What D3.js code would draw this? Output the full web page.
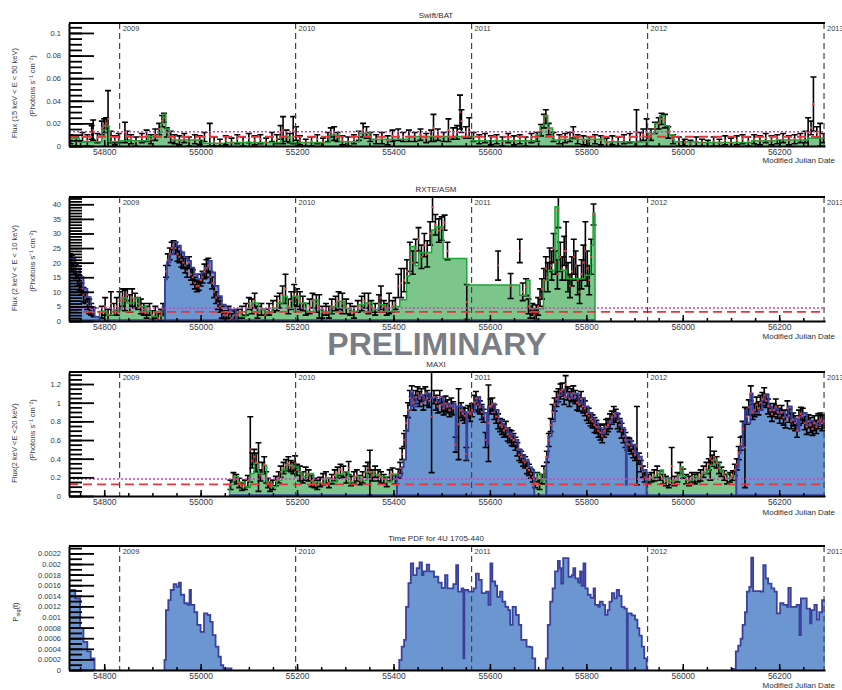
<!DOCTYPE html>
<html>
<head>
<meta charset="utf-8">
<title>4U 1705-440 light curves</title>
<script src="https://cdnjs.cloudflare.com/ajax/libs/d3/7.8.5/d3.min.js"></script>
<style>
  body { margin: 0; background: #fff; }
  svg { display: block; font-family: "Liberation Sans", Arial, sans-serif; }
  .xlab text { font-size: 8.5px; fill: #34374a; }
  .ylab text { font-family: "Liberation Sans Narrow", "Liberation Sans", sans-serif; font-size: 7.5px; fill: #34374a; }
  .title { font-size: 8px; fill: #2b2e40; }
  .ytitle { font-size: 7.5px; fill: #34374a; }
  .year { font-size: 7.5px; fill: #3a3a3a; }
</style>
</head>
<body>
<svg id="chart" width="842" height="690"></svg>
<script>
// ---- data (MJD, values) ----
const years = [[54832, "2009"], [55197, "2010"], [55562, "2011"], [55927, "2012"], [56293, "2013"]];
const xMajor = [54800, 55000, 55200, 55400, 55600, 55800, 56000, 56200];

const batYTicks = [0, 0.02, 0.04, 0.06, 0.08, 0.1];
const asmYTicks = [0, 5, 10, 15, 20, 25, 30, 35, 40];
const maxiYTicks = [0, 0.2, 0.4, 0.6, 0.8, 1, 1.2];
const pdfYTicks = [0, 0.0002, 0.0004, 0.0006, 0.0008, 0.001, 0.0012, 0.0014, 0.0016, 0.0018, 0.002, 0.0022];

// thresholds [dotted, dashed]
const batLevels = [0.0127, 0.0082];
const asmLevels = [4.47, 3.1];
const maxiLevels = [0.182, 0.125];

// block steps: [start, value]; a single [end] closes a segment
const batBlocks = [
  [54727,0.0068],[54749,0.0038],[54795,0.0142],[54803,0.018],[54810,0.0038],[54831,0.0047],[54892,0.0083],
  [54912,0.012],[54918,0.02],[54922,0.028],[54928,0.015],[54935,0.0083],[54940,0.0053],[55004,0.0024],
  [55054,0.003],[55166,0.0083],[55187,0.003],[55268,0.0097],[55288,0.0038],[55329,0.0112],[55354,0.0059],
  [55431,0.0083],[55563,0.0047],[55695,0.0097],[55704,0.018],[55712,0.027],[55720,0.016],[55730,0.0053],
  [55746,0.0059],[55838,0.0038],[55929,0.0112],[55942,0.02],[55952,0.027],[55962,0.018],[55972,0.01],
  [55982,0.0038],[56031,0.003],[56143,0.0047],[56194,0.0053],[56260,0.0068],[56297]
];

const asmHigh = [
  [54727,21.5],[54740,18],[54750,15],[54757,11],[54765,8.2],[54772,4.8],[54780,1.4],[54790],
  [54926,14.3],[54930,20.1],[54937,22.9],[54944,27],[54951,25.8],[54959,23.5],[54966,21.8],[54973,20.6],
  [54980,18.3],[54987,16],[54994,14.3],[55002,16.6],[55009,18.3],[55016,20.6],[55023,16.6],[55030,12],
  [55037,8.5],[55044,5.6],[55052,4.4],[55062,3.9],[55073]
];
const asmLow = [
  [54790,3.3],[54805,2.1],[54819,3.9],[54837,7.9],[54848,6.2],[54862,7.9],[54873,5.0],[54887,3.3],
  [54898,1.5],[54909,3.3],[54919,1.5],[54926],
  [55073,2.7],[55084,1.5],[55094,4.4],[55105,6.2],[55120,3.9],[55134,2.7],[55148,4.4],[55159,6.2],
  [55170,8.5],[55180,4.4],[55191,8.5],[55205,6.2],[55220,3.3],[55234,7.3],[55245,3.9],[55255,2.7],
  [55270,5.0],[55284,6.8],[55298,4.4],[55313,3.3],[55327,5.6],[55341,6.2],[55356,3.9],[55370,5.6],
  [55384,3.3],[55398,5.0],[55413,7.3],[55427,15.4],[55434,25.5],[55445,19],[55452,23.5],[55479,31.2],
  [55486,32.3],[55503,21.4],[55552,12.3],[55662,8.8],[55676,14],[55683,4.2],[55711,14],[55721,17.4],
  [55735,39.2],[55742,17.4],[55759,14.5],[55797,15.7],[55809,26],[55814,36.9],[55818]
];

const maxiLow = [
  [55060,0.12],[55068,0.21],[55078,0.15],[55092,0.10],[55103,0.24],[55111,0.35],[55120,0.24],[55130,0.33],
  [55137,0.15],[55147,0.10],[55158,0.17],[55168,0.28],[55179,0.33],[55192,0.31],[55203,0.26],[55210,0.21],
  [55220,0.24],[55234,0.15],[55248,0.14],[55258,0.19],[55268,0.15],[55282,0.23],[55296,0.26],[55307,0.15],
  [55317,0.21],[55331,0.17],[55345,0.26],[55358,0.23],[55372,0.21],[55386,0.15],[55396,0.23],[55407],
  [55692,0.17],[55697,0.24],[55706,0.16],[55712,0.28],[55717],
  [55925,0.17],[55929,0.19],[55939,0.21],[55946,0.24],[55953,0.28],[55960,0.19],[55970,0.16],[55981,0.17],
  [55989,0.22],[55996,0.31],[56001,0.21],[56008,0.17],[56019,0.21],[56029,0.19],[56039,0.24],[56050,0.28],
  [56057,0.33],[56064,0.39],[56071,0.35],[56077,0.28],[56084,0.24],[56093,0.19],[56102,0.22],[56111]
];
const maxiHigh = [
  [55407,0.21],[55417,0.31],[55421,0.39],[55426,0.71],[55431,0.92],[55436,1.12],[55441,0.96],[55447,1.06],
  [55455,1.08],[55462,1.03],[55469,1.10],[55476,1.05],[55483,1.06],[55490,1.01],[55497,1.06],[55504,0.96],
  [55511,0.99],[55517,0.96],[55524,0.99],[55529,0.49],[55531,0.96],[55542,0.90],[55551,0.39],[55553,0.89],
  [55562,0.90],[55569,1.01],[55574,1.06],[55580,0.96],[55587,0.89],[55594,0.56],[55596,0.96],[55604,0.99],
  [55611,0.92],[55618,0.81],[55625,0.76],[55632,0.73],[55638,0.67],[55645,0.65],[55652,0.60],[55659,0.49],
  [55666,0.42],[55673,0.39],[55680,0.31],[55687,0.28],[55692],
  [55717,0.42],[55721,0.64],[55728,0.80],[55735,0.99],[55742,1.08],[55749,1.14],[55756,1.06],[55763,1.10],
  [55770,1.05],[55777,1.10],[55784,0.99],[55791,1.05],[55797,0.96],[55804,0.89],[55811,0.83],[55818,0.78],
  [55825,0.73],[55832,0.67],[55839,0.74],[55846,0.78],[55853,0.85],[55860,0.89],[55867,0.81],[55874,0.73],
  [55880,0.64],[55882,0.12],[55884,0.60],[55894,0.55],[55901,0.46],[55908,0.42],[55915,0.28],[55925],
  [56111,0.31],[56116,0.46],[56120,0.53],[56125,0.78],[56129,0.92],[56134,0.78],[56140,1.10],[56145,0.89],
  [56157,0.92],[56164,1.03],[56171,1.08],[56178,0.96],[56185,0.92],[56192,0.94],[56198,0.89],[56205,0.90],
  [56212,0.85],[56219,0.96],[56226,0.81],[56233,0.83],[56238,0.70],[56242,0.85],[56250,0.89],[56257,0.76],
  [56264,0.81],[56271,0.78],[56278,0.76],[56285,0.81],[56292,0.80],[56297]
];

const pdfSteps = [
  [54727,0.00151],[54740,0.00135],[54750,0.00079],[54757,0.00053],[54765,0.00035],[54772,0.00022],[54780],
  [54925,0.00019],[54928,0.00113],[54933,0.00132],[54938,0.00151],[54944,0.00162],[54950,0.00157],[54955,0.00165],
  [54959,0.00142],[54966,0.00126],[54973,0.00123],[54977,0.00151],[54980,0.00123],[54987,0.00109],[54993,0.00085],
  [55000,0.00072],[55007,0.00107],[55014,0.00104],[55020,0.00091],[55025,0.00066],[55031,0.00044],[55037,0.00025],
  [55042,0.00009],[55047,0.00003],[55064],
  [55412,0.00019],[55417,0.00044],[55422,0.00057],[55426,0.00119],[55431,0.00164],[55436,0.00201],[55441,0.00179],
  [55448,0.00192],[55454,0.00203],[55459,0.00179],[55462,0.00186],[55469,0.00199],[55474,0.00186],[55484,0.00176],
  [55493,0.00165],[55500,0.00155],[55507,0.00179],[55512,0.00154],[55524,0.00162],[55530,0.00198],[55534,0.00148],
  [55541,0.00154],[55545,0.00022],[55547,0.00151],[55555,0.00148],[55566,0.00154],[55571,0.00182],[55577,0.0017],
  [55583,0.00145],[55592,0.00148],[55597,0.00123],[55601,0.00201],[55605,0.00167],[55611,0.00159],[55615,0.00138],
  [55621,0.00148],[55626,0.00129],[55632,0.00119],[55638,0.00113],[55642,0.00085],[55647,0.00119],[55654,0.00104],
  [55660,0.00085],[55665,0.00057],[55673,0.00057],[55676,0.00044],[55683,0.00043],[55688,0.00022],[55694],
  [55716,0.00022],[55720,0.00085],[55725,0.00129],[55730,0.00154],[55735,0.00186],[55741,0.00206],[55745,0.00192],
  [55748,0.00163],[55752,0.00211],[55759,0.00211],[55763,0.00176],[55770,0.00179],[55773,0.00192],[55777,0.00173],
  [55783,0.00165],[55787,0.00186],[55790,0.00159],[55794,0.00201],[55798,0.00154],[55803,0.00142],[55809,0.00136],
  [55815,0.00154],[55818,0.00123],[55825,0.00119],[55828,0.00129],[55834,0.00123],[55839,0.00104],[55844,0.00113],
  [55848,0.00129],[55853,0.00145],[55858,0.00135],[55863,0.00151],[55868,0.0014],[55873,0.00119],[55879,0.00116],
  [55884,0.00003],[55886,0.00107],[55894,0.00103],[55901,0.00095],[55906,0.00079],[55910,0.00065],[55915,0.00044],
  [55920,0.00022],[55925],
  [56104,0.00002],[56110,0.00035],[56115,0.00046],[56120,0.00059],[56124,0.00085],[56129,0.00109],[56133,0.00148],
  [56138,0.00157],[56142,0.00212],[56146,0.00149],[56162,0.00148],[56167,0.00198],[56172,0.00173],[56177,0.00163],
  [56184,0.00154],[56190,0.00148],[56195,0.00107],[56202,0.00126],[56209,0.00123],[56216,0.00119],[56219,0.00155],
  [56224,0.00119],[56236,0.00123],[56242,0.00066],[56245,0.00135],[56257,0.00116],[56264,0.00088],[56267,0.00113],
  [56273,0.00123],[56278,0.00095],[56283,0.00109],[56289,0.00132],[56297]
];

// measurements: [MJD, flux, error]
const batPoints = [
  [54730,.006,.004],[54742,.004,.004],[54755,.008,.004],[54765,.005,.005],[54774,.012,.006],[54777,.014,.009],
  [54786,.007,.004],[54795,.016,.006],[54800,.018,.006],[54804,.02,.005],[54808,.024,.025],[54814,.008,.005],
  [54822,.005,.004],[54830,.007,.004],[54843,.012,.009],[54848,.009,.004],[54856,.006,.004],[54866,.004,.004],
  [54878,.007,.004],[54888,.009,.005],[54897,.006,.004],[54906,.01,.005],[54914,.015,.005],[54920,.022,.005],
  [54924,.025,.004],[54930,.012,.004],[54938,.008,.005],[54946,.006,.004],[54956,.005,.004],[54966,.007,.004],
  [54976,.004,.004],[54988,.006,.004],[54998,.005,.004],[55008,.008,.004],[55019,.01,.01],[55028,.004,.004],
  [55040,.003,.003],[55052,.005,.004],[55064,.003,.004],[55076,.006,.004],[55088,.004,.004],[55100,.007,.004],
  [55112,.005,.004],[55124,.006,.004],[55136,.003,.004],[55148,.008,.004],[55158,.006,.004],[55166,.012,.006],
  [55171,.014,.012],[55178,.009,.005],[55185,.007,.004],[55192,.014,.012],[55198,.011,.006],[55206,.005,.004],
  [55218,.003,.003],[55230,.004,.004],[55242,.006,.004],[55254,.003,.004],[55264,.008,.004],[55270,.012,.004],
  [55277,.011,.006],[55284,.008,.004],[55294,.005,.004],[55306,.004,.004],[55318,.006,.004],[55328,.009,.004],
  [55337,.014,.006],[55344,.012,.005],[55352,.008,.004],[55364,.006,.004],[55376,.007,.005],[55388,.005,.004],
  [55398,.009,.005],[55410,.01,.005],[55420,.008,.004],[55432,.009,.005],[55444,.008,.004],[55456,.01,.005],
  [55468,.007,.004],[55478,.009,.005],[55483,.016,.012],[55492,.01,.005],[55504,.008,.004],[55514,.014,.01],
  [55524,.011,.005],[55532,.012,.006],[55538,.03,.015],[55541,.022,.01],[55550,.012,.005],[55557,.016,.009],
  [55566,.008,.004],[55578,.006,.004],[55590,.007,.004],[55602,.005,.004],[55614,.006,.004],[55626,.004,.004],
  [55638,.007,.004],[55650,.005,.004],[55662,.006,.004],[55674,.004,.004],[55686,.007,.004],[55698,.008,.004],
  [55706,.014,.005],[55712,.022,.006],[55716,.026,.006],[55722,.015,.005],[55732,.008,.004],[55744,.006,.004],
  [55756,.007,.004],[55766,.008,.004],[55773,.012,.005],[55782,.006,.004],[55794,.005,.004],[55806,.004,.004],
  [55818,.006,.004],[55830,.005,.004],[55842,.003,.004],[55854,.005,.004],[55866,.004,.004],[55878,.006,.004],
  [55890,.007,.004],[55904,.012,.02],[55912,.008,.004],[55918,.01,.005],[55925,.012,.012],[55934,.01,.005],
  [55942,.016,.005],[55950,.02,.005],[55956,.024,.005],[55963,.022,.006],[55970,.012,.005],[55980,.006,.004],
  [55992,.004,.004],[56004,.003,.003],[56016,.002,.003],[56028,.004,.004],[56040,.003,.003],[56052,.002,.003],
  [56064,.004,.004],[56076,.003,.003],[56088,.005,.004],[56100,.003,.004],[56112,.005,.004],[56124,.006,.004],
  [56136,.004,.004],[56148,.006,.004],[56160,.005,.004],[56172,.007,.004],[56184,.005,.004],[56196,.006,.004],
  [56208,.007,.004],[56220,.005,.004],[56232,.006,.004],[56244,.007,.004],[56254,.008,.005],[56260,.012,.013],
  [56266,.016,.006],[56271,.037,.024],[56278,.012,.005],[56285,.01,.01],[56292,.007,.004]
];

const asmPoints = [
  [54729,21,2],[54733,20,2.5],[54737,18,2],[54741,17,2.5],[54745,14,2],[54749,13,2.5],[54753,11,2],[54757,9,2.5],
  [54761,8,2],[54765,6,2],[54769,5,2.5],[54773,4,2],[54778,3,1.5],
  [54795,3,2],[54802,5,3],[54808,2,2],[54814,6,4],[54820,4,2],[54826,5,3],[54832,7,3],[54838,8,3],[54843,7,3.5],
  [54848,9,2],[54853,6,3],[54858,8,3],[54864,7,2.5],[54870,6,2],[54876,5,2.5],[54882,4,2],[54888,3,2],[54894,4,2],
  [54900,2,1.5],[54906,3,2],[54912,1,1.5],[54918,2,2],[54922,4,2],
  [54928,17,2],[54932,21,2],[54936,23,2],[54940,25,2],[54944,26,1.5],[54948,25,2],[54952,23,2.5],[54956,22,2],
  [54960,21,2.5],[54964,20,2],[54968,19,2.5],[54972,17,2],[54976,20,2],[54980,16,2],[54984,15,2.5],[54988,13,2],
  [54992,12,2],[54996,12,1.5],[55000,14,2],[55004,15,2],[55008,17,2.5],[55012,18,3],[55016,19,2.5],[55020,15,2],
  [55024,13,2],[55028,10,2],[55032,8,2],[55036,6,2],[55040,5,2],[55044,3,2],[55048,2,1.5],[55053,2,1.5],
  [55058,3,2],[55064,1,1.5],[55070,2,1.5],
  [55078,2,2],[55086,3,2],[55094,4,2],[55100,6,2],[55106,5,2.5],[55112,7,2.5],[55118,3,2],[55126,4,2],[55134,2,2],
  [55142,4,2],[55150,5,2],[55158,6,2.5],[55164,7,2.5],[55170,9,3],[55176,11,5],[55182,5,2.5],[55188,7,3],
  [55194,9,3.5],[55200,8,3],[55206,7,3],[55212,6,2.5],[55218,4,2],[55226,5,2.5],[55232,7,2.5],[55240,6,3],
  [55246,5,4],[55252,3,2],[55260,4,2],[55266,3,2],[55272,5,2.5],[55280,6,2.5],[55286,7,3],[55294,6,3.5],
  [55302,5,2.5],[55310,4,2],[55318,3,2],[55326,5,2],[55334,6,2.5],[55340,7,2.5],[55348,6,3.5],[55354,5,2],
  [55362,4,2],[55370,6,3],[55374,8,4],[55380,5,2],[55386,4,2],[55391,6,3.5],[55398,5,2],[55404,6,2],
  [55410,12,4],[55416,13,5],[55422,14,4],[55428,17,4],[55434,22,5],[55440,20,4],[55446,24,4],[55452,28,4],
  [55458,22,4],[55464,26,4],[55470,23,4.5],[55476,30,4],[55481,39,5],[55487,33,3.5],[55494,31,4],[55500,31.7,4],
  [55506,33.7,2.6],[55512,24,3],
  [55552,6.5,6],[55617,19,5],[55643,12,4.3],[55662,24,4],[55668,10,3],[55675,11.6,2.9],[55680,5,2.5],[55684,3,2],
  [55688,4,2],[55692,2,2],[55696,3,2.5],[55700,5,3],[55704,8,3],[55708,11,3.5],[55712,14,4],[55716,18,4],
  [55720,15,5],[55724,21,4],[55728,19,5],[55732,25,5],[55736,20,4],[55740,16,5],[55742,38,6],[55746,22,5],
  [55750,18,4],[55754,24,5],[55758,24,10],[55762,15,5],[55766,12,4],[55770,17,5],[55774,22,6],[55778,19,5],
  [55782,14,5],[55786,10,4],[55790,16,5],[55794,20,6],[55798,24,10],[55802,18,6],[55806,14,5],[55810,22,6],
  [55815,36.5,3.6]
];

const maxiPoints = [
  [55062,.12,.05],[55068,.2,.05],[55074,.18,.05],[55080,.14,.05],[55086,.1,.04],[55092,.12,.05],[55098,.16,.06],
  [55103,.5,.35],[55107,.38,.08],[55111,.42,.08],[55115,.36,.1],[55120,.31,.26],[55124,.22,.06],[55128,.3,.06],
  [55132,.34,.08],[55136,.2,.06],[55140,.14,.05],[55144,.1,.05],[55150,.12,.05],[55156,.16,.05],[55162,.2,.06],
  [55166,.26,.06],[55172,.3,.06],[55177,.33,.06],[55182,.35,.07],[55187,.32,.06],[55192,.3,.06],[55196,.35,.08],
  [55200,.28,.06],[55206,.24,.08],[55212,.2,.06],[55218,.24,.07],[55224,.22,.06],[55230,.16,.06],[55236,.14,.05],
  [55242,.12,.05],[55248,.15,.05],[55254,.18,.06],[55260,.2,.06],[55266,.14,.05],[55272,.18,.05],[55278,.22,.06],
  [55284,.25,.06],[55290,.28,.06],[55296,.26,.06],[55302,.2,.06],[55307,.3,.07],[55312,.16,.05],[55318,.2,.06],
  [55324,.22,.06],[55330,.17,.05],[55336,.2,.06],[55342,.26,.06],[55347,.3,.06],[55351,.25,.24],[55356,.22,.06],
  [55362,.26,.06],[55368,.22,.06],[55374,.2,.06],[55380,.18,.05],[55386,.15,.05],[55392,.22,.06],[55398,.24,.06],
  [55404,.18,.05],
  [55410,.24,.05],[55414,.3,.06],[55418,.45,.06],[55422,.6,.07],[55426,.78,.08],[55430,.92,.08],[55434,1.05,.08],
  [55438,1.12,.06],[55442,1.0,.08],[55446,1.06,.07],[55450,1.1,.07],[55454,1.04,.08],[55458,1.08,.07],[55462,1.0,.08],
  [55466,1.1,.07],[55470,1.05,.08],[55474,1.02,.07],[55479,.85,.6],[55484,1.06,.07],[55488,1.0,.08],[55492,.96,.07],
  [55496,1.06,.07],[55500,.98,.08],[55504,.94,.07],[55508,.99,.08],[55512,.96,.07],[55516,.92,.07],[55520,.97,.08],
  [55524,.94,.07],[55529,.55,.08],[55535,.77,.38],[55540,.92,.08],[55544,.88,.07],[55548,.86,.08],[55551,.45,.07],
  [55555,.9,.07],[55559,.88,.08],[55563,.92,.07],[55567,1.0,.08],[55571,1.05,.07],[55575,.98,.08],[55579,.95,.07],
  [55583,.9,.08],[55587,.86,.07],[55591,.6,.08],[55597,.78,.41],[55601,.96,.08],[55605,.98,.07],[55609,.9,.08],
  [55613,.85,.07],[55617,.8,.08],[55621,.76,.07],[55625,.74,.08],[55629,.7,.07],[55633,.72,.08],[55637,.66,.07],
  [55641,.64,.07],[55645,.62,.08],[55649,.6,.07],[55653,.56,.07],[55657,.5,.07],[55661,.44,.06],[55665,.42,.06],
  [55669,.38,.06],[55673,.36,.06],[55677,.3,.06],[55681,.28,.06],[55685,.24,.05],[55689,.2,.05],
  [55694,.14,.05],[55698,.2,.05],[55703,.12,.05],[55708,.18,.05],[55712,.26,.06],
  [55718,.42,.06],[55722,.6,.07],[55726,.76,.07],[55730,.9,.08],[55734,.98,.07],[55738,1.04,.08],[55742,1.08,.07],
  [55746,1.12,.08],[55750,1.14,.07],[55754,1.06,.08],[55757,1.2,.09],[55761,1.1,.07],[55765,1.04,.08],[55769,1.08,.07],
  [55773,1.1,.08],[55777,1.06,.07],[55781,1.0,.08],[55785,.98,.07],[55789,1.04,.08],[55793,.96,.07],[55797,.94,.08],
  [55801,.88,.07],[55805,.86,.08],[55809,.82,.07],[55813,.8,.07],[55817,.76,.08],[55821,.74,.07],[55825,.7,.07],
  [55829,.68,.08],[55833,.64,.07],[55837,.7,.07],[55841,.74,.08],[55845,.76,.07],[55849,.8,.08],[55853,.84,.07],
  [55857,.88,.08],[55861,.86,.07],[55865,.8,.08],[55869,.76,.07],[55873,.7,.08],[55877,.64,.07],[55881,.6,.08],
  [55885,.56,.07],[55889,.55,.07],[55893,.52,.07],[55897,.48,.07],[55901,.44,.06],[55905,.54,.42],[55909,.4,.06],
  [55913,.32,.06],[55917,.26,.06],[55921,.2,.05],
  [55929,.18,.05],[55935,.2,.05],[55941,.22,.06],[55947,.26,.06],[55953,.22,.05],[55959,.18,.05],[55965,.16,.05],
  [55971,.14,.05],[55977,.32,.2],[55983,.16,.05],[55989,.2,.05],[55995,.3,.06],[56001,.24,.05],[56007,.18,.05],
  [56013,.16,.05],[56019,.2,.05],[56025,.18,.05],[56031,.2,.05],[56037,.22,.06],[56043,.26,.06],[56049,.3,.06],
  [56054,.34,.06],[56057,.4,.23],[56061,.38,.06],[56065,.42,.06],[56070,.36,.06],[56075,.3,.06],[56080,.26,.05],
  [56086,.22,.05],[56092,.18,.05],[56098,.2,.05],[56104,.22,.05],[56108,.28,.06],
  [56112,.34,.06],[56116,.46,.07],[56120,.56,.07],[56124,.72,.08],[56129,.52,.43],[56133,.85,.08],[56137,.95,.08],
  [56141,1.1,.08],[56145,.9,.08],[56149,.92,.07],[56153,.98,.08],[56157,.94,.07],[56161,1.0,.08],[56165,1.04,.07],
  [56169,1.08,.08],[56173,1.02,.07],[56177,.96,.08],[56181,.92,.07],[56185,.88,.08],[56189,.92,.07],[56193,.96,.08],
  [56197,.9,.07],[56201,.86,.08],[56205,.9,.07],[56209,.84,.08],[56213,.8,.07],[56217,.94,.08],[56221,.86,.07],
  [56225,.8,.08],[56229,.82,.07],[56233,.78,.08],[56237,.7,.07],[56241,.84,.08],[56245,.88,.07],[56249,.86,.08],
  [56253,.78,.07],[56257,.74,.08],[56261,.8,.07],[56265,.76,.08],[56269,.72,.07],[56273,.78,.08],[56277,.74,.07],
  [56281,.8,.08],[56285,.82,.07],[56289,.78,.08],[56293,.8,.07]
];

// ---- layout ----
const GREEN_FILL = "#7cc68c", GREEN_LINE = "#1fa33a";
const BLUE_FILL = "#6b96cf", BLUE_LINE = "#3a409c";
const left = 69, right = 825;

const x = d3.scaleLinear().domain([54727, 56295]).range([left, right]);
const svg = d3.select("#chart");

const panels = [
  { title: "Swift/BAT", top: 23, bottom: 146, yMax: 0.1088, ticks: batYTicks, minor: 0.005,
    yt1: "Flux (15 keV < E < 50 keV)", yt2: "(Photons s\u207B\u00B9 cm\u207B\u00B2)", c1: 93, c2: 86,
    low: batBlocks, high: null, points: batPoints, levels: batLevels, xt: 163 },
  { title: "RXTE/ASM", top: 197, bottom: 321, yMax: 42.5, ticks: asmYTicks, minor: 1,
    yt1: "Flux (2 keV < E < 10 keV)", yt2: "(Photons s\u207B\u00B9 cm\u207B\u00B2)", c1: 268, c2: 261,
    low: asmLow, high: asmHigh, points: asmPoints, levels: asmLevels, xt: 339 },
  { title: "MAXI", top: 372, bottom: 496, yMax: 1.329, ticks: maxiYTicks, minor: 0.05,
    yt1: "Flux(2 keV <E <20 keV)", yt2: "(Photons s\u207B\u00B9 cm\u207B\u00B2)", c1: 443, c2: 430,
    low: maxiLow, high: maxiHigh, points: maxiPoints, levels: maxiLevels, xt: 515 },
  { title: "Time PDF for 4U 1705-440", top: 546, bottom: 670, yMax: 0.00234, ticks: pdfYTicks, minor: 0.0001,
    pdf: pdfSteps, xt: 688 }
];

// split [start,value] steps into contiguous segments
function segments(steps) {
  let segs = [], cur = [];
  steps.forEach(function(d) {
    if (cur.length) cur[cur.length - 1].x1 = d[0];
    if (d.length === 1) {
      if (cur.length) segs.push(cur);
      cur = [];
    } else {
      cur.push({ x0: d[0], v: d[1] });
    }
  });
  return segs;
}

function drawBlocks(g, steps, y, fill, stroke, width) {
  segments(steps).forEach(function(seg) {
    let pts = [];
    seg.forEach(function(b) { pts.push([x(b.x0), y(b.v)], [x(b.x1), y(b.v)]); });
    let outline = [[pts[0][0], y(0)]].concat(pts, [[pts[pts.length - 1][0], y(0)]]);
    g.append("path").attr("d", d3.line()(outline) + "Z").attr("fill", fill);
    g.append("path").attr("d", d3.line()(outline))
      .attr("fill", "none").attr("stroke", stroke).attr("stroke-width", width);
  });
}

function drawErrors(g, pts, y) {
  let d = "";
  pts.forEach(function(p) {
    let px = x(p[0]), y1 = y(p[1] - p[2]), y2 = y(p[1] + p[2]);
    d += "M" + px + "," + y1 + "V" + y2;
    d += "M" + (px - 3) + "," + y2 + "H" + (px + 3);
    d += "M" + (px - 3) + "," + y1 + "H" + (px + 3);
  });
  g.append("path").attr("d", d).attr("fill", "none").attr("stroke", "#000").attr("stroke-width", 1.6);
}

panels.forEach(function(p, i) {
  const y = d3.scaleLinear().domain([0, p.yMax]).range([p.bottom, p.top]);
  const g = svg.append("g");

  g.append("clipPath").attr("id", "clip" + i).append("rect")
    .attr("x", left).attr("y", p.top).attr("width", right - left).attr("height", p.bottom - p.top);
  const plot = g.append("g").attr("clip-path", "url(#clip" + i + ")");

  if (p.pdf) {
    drawBlocks(plot, p.pdf, y, BLUE_FILL, BLUE_LINE, 1.8);
  } else {
    drawBlocks(plot, p.low, y, GREEN_FILL, "none", 0);
    if (p.high) drawBlocks(plot, p.high, y, BLUE_FILL, "none", 0);
    drawErrors(plot, p.points, y);
    drawBlocks(plot, p.low, y, "none", GREEN_LINE, 1.5);
    if (p.high) {
      drawBlocks(plot, p.high, y, "none", BLUE_LINE, 1.9);
      let all = p.low.concat(p.high);
      let ext = d3.extent(all, function(d) { return d[0]; });
      plot.append("line").attr("x1", x(ext[0])).attr("x2", x(ext[1]))
        .attr("y1", y(0) - 1).attr("y2", y(0) - 1).attr("stroke", BLUE_LINE).attr("stroke-width", 1.5);
    }
    plot.selectAll("circle").data(p.points).enter().append("circle")
      .attr("cx", function(d) { return x(d[0]); })
      .attr("cy", function(d) { return y(d[1]); })
      .attr("r", 1.1).attr("fill", "#ee3b3b");
    plot.append("line").attr("x1", left).attr("x2", right)
      .attr("y1", y(p.levels[0])).attr("y2", y(p.levels[0]))
      .attr("stroke", "#d33fc2").attr("stroke-width", 1.5).attr("stroke-dasharray", "2,2");
    plot.append("line").attr("x1", left).attr("x2", right)
      .attr("y1", y(p.levels[1])).attr("y2", y(p.levels[1]))
      .attr("stroke", "#e8353b").attr("stroke-width", 1.8).attr("stroke-dasharray", "9,5");
  }

  // year markers
  years.forEach(function(yr) {
    g.append("line").attr("x1", x(yr[0])).attr("x2", x(yr[0]))
      .attr("y1", p.top).attr("y2", p.bottom)
      .attr("stroke", "#444").attr("stroke-width", 1.2).attr("stroke-dasharray", "6,4");
    g.append("text").attr("class", "year").attr("x", x(yr[0]) + 3).attr("y", p.top + 8).text(yr[1]);
  });

  // frame
  g.append("line").attr("x1", left).attr("x2", right).attr("y1", p.top).attr("y2", p.top)
    .attr("stroke", "#000").attr("stroke-width", 2);

  // y axis (ROOT style ticks inside)
  const yMinor = d3.range(0, p.yMax, p.minor);
  g.append("g").attr("transform", "translate(" + left + ",0)")
    .call(d3.axisLeft(y).tickValues(yMinor).tickSizeInner(-13).tickSizeOuter(0).tickFormat(""))
    .call(function(a) { a.select(".domain").remove(); a.selectAll("line").attr("stroke-width", 1.8); });
  g.append("g").attr("class", "ylab").attr("transform", "translate(" + left + ",0)")
    .call(d3.axisLeft(y).tickValues(p.ticks).tickSizeInner(-25).tickSizeOuter(0).tickPadding(8)
      .tickFormat(function(d) { return d === 0 ? "0" : d3.format("~g")(d); }))
    .call(function(a) {
      a.select(".domain").attr("stroke-width", 2);
      a.selectAll("line").attr("stroke-width", 1.8);
    });

  // x axis
  const xMinor = d3.range(54750, 56295, 50);
  g.append("g").attr("transform", "translate(0," + p.bottom + ")")
    .call(d3.axisBottom(x).tickValues(xMinor).tickSizeInner(-3).tickSizeOuter(0).tickFormat(""))
    .call(function(a) { a.select(".domain").remove(); a.selectAll("line").attr("stroke-width", 1.5); });
  g.append("g").attr("class", "xlab").attr("transform", "translate(0," + p.bottom + ")")
    .call(d3.axisBottom(x).tickValues(xMajor).tickSizeInner(-6).tickSizeOuter(0).tickPadding(3)
      .tickFormat(d3.format("d")))
    .call(function(a) {
      a.select(".domain").attr("stroke-width", 2);
      a.selectAll("line").attr("stroke-width", 1.5);
    });

  // titles
  g.append("text").attr("class", "title").attr("x", 436).attr("y", p.top - 5)
    .attr("text-anchor", "middle").text(p.title);
  g.append("text").attr("class", "title").attr("x", 835).attr("y", p.xt)
    .attr("text-anchor", "end").text("Modified Julian Date");

  if (p.pdf) {
    let t = g.append("text").attr("class", "ytitle").attr("text-anchor", "middle")
      .attr("transform", "translate(18," + 612 + ") rotate(-90)");
    t.append("tspan").text("P");
    t.append("tspan").attr("font-size", "5.5px").attr("dy", 2).text("sig");
    t.append("tspan").attr("dy", -2).text("(t)");
  } else {
    g.append("text").attr("class", "ytitle").attr("text-anchor", "middle")
      .attr("transform", "translate(17," + p.c1 + ") rotate(-90)").text(p.yt1);
    g.append("text").attr("class", "ytitle").attr("text-anchor", "middle")
      .attr("transform", "translate(35," + p.c2 + ") rotate(-90)").text(p.yt2);
  }
});

svg.append("text").attr("x", 437).attr("y", 355).attr("text-anchor", "middle")
  .attr("font-size", "32px").attr("font-weight", "bold").attr("fill", "#7a7e84")
  .text("PRELIMINARY");
</script>
</body>
</html>
